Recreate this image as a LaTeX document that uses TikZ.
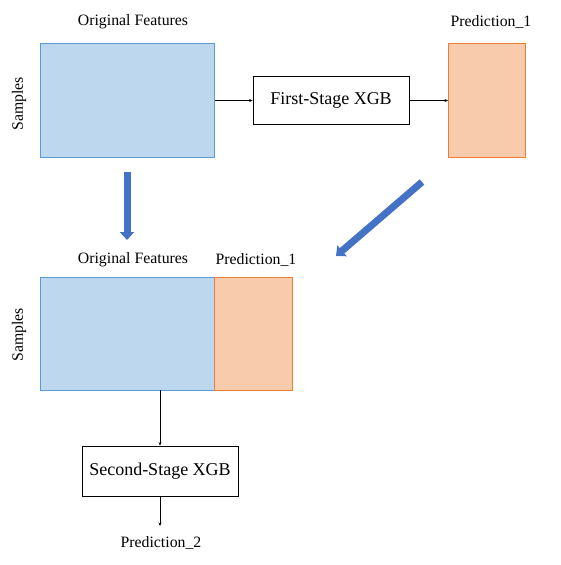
\documentclass[tikz,border=0pt]{standalone}
\usepackage{fontspec}
\setmainfont{Liberation Serif}
\usetikzlibrary{arrows.meta}
\definecolor{bfill}{HTML}{BDD7EE}
\definecolor{bdraw}{HTML}{5B9BD5}
\definecolor{ofill}{HTML}{F8CBAD}
\definecolor{odraw}{HTML}{ED7D31}
\definecolor{big}{HTML}{4472C4}
\tikzset{
  featbox/.style={draw=bdraw, fill=bfill, line width=0.8pt},
  predbox/.style={draw=odraw, fill=ofill, line width=0.8pt},
  xgb/.style={draw=black, line width=0.8pt, fill=white, minimum width=156pt, minimum height=48pt, inner sep=0pt, font=\fontsize{18}{20}\selectfont},
  lbl/.style={font=\fontsize{15.8}{17}\selectfont, inner sep=0pt},
  thin/.style={line width=0.6pt, -{Stealth[length=3.5pt,width=3pt]}},
  bigarrow/.style={draw=big, line width=7pt, -{Triangle[length=8pt,width=14pt]}}
}
\begin{document}
\begin{tikzpicture}[x=1pt,y=-1pt]
\useasboundingbox (0,0) rectangle (561,565);
% top row
\node[featbox, minimum width=174pt, minimum height=114pt, inner sep=0pt, anchor=north west] (f1) at (40,43) {};
\node[predbox, minimum width=77pt, minimum height=114pt, inner sep=0pt, anchor=north west] (p1) at (448,43) {};
\node[xgb] (x1) at (331,100.5) {First-Stage XGB};
\node[lbl] (t1) at (133,22) {Original Features};
\node[lbl] (t2) at (491,22) {Prediction\_1};
\node[lbl, rotate=90] (s1) at (19,104) {Samples};
\draw[thin] (f1.east |- x1.west) -- (x1.west);
\draw[thin] (x1.east) -- (x1.east -| p1.west);
% big arrows
\coordinate (a1s) at (127,172);
\coordinate (a1e) at (127,240);
\draw[bigarrow] (a1s) -- (a1e);
\coordinate (a2s) at (422,182);
\coordinate (a2e) at (336,256);
\draw[bigarrow] (a2s) -- (a2e);
% second row
\node[featbox, minimum width=174pt, minimum height=113pt, inner sep=0pt, anchor=north west] (f2) at (40,277) {};
\node[predbox, minimum width=78pt, minimum height=113pt, inner sep=0pt, anchor=north west] (p2) at (214,277) {};
\node[lbl] (t3) at (133,260) {Original Features};
\node[lbl] (t4) at (256,260) {Prediction\_1};
\node[lbl, rotate=90] (s2) at (19,335) {Samples};
\node[xgb, minimum height=50pt] (x2) at (160,471) {Second-Stage XGB};
\coordinate (c2) at (160,390);
\draw[thin] (c2) -- (x2.north);
\node[lbl] (t5) at (161,543) {Prediction\_2};
\coordinate (c3) at (160,526);
\draw[thin] (x2.south) -- (c3);
\end{tikzpicture}
\end{document}
